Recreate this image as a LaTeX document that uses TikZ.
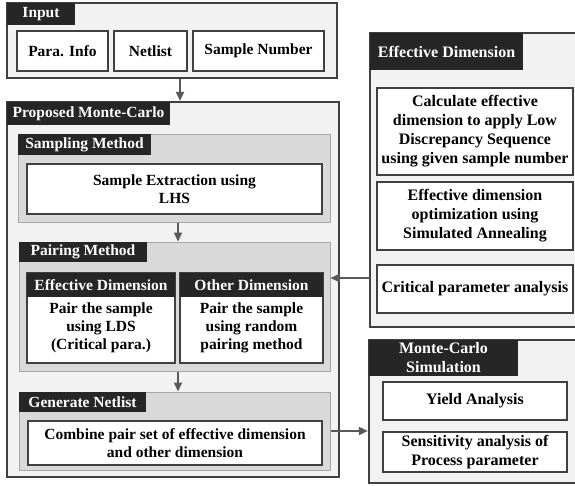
\documentclass[tikz,border=0pt]{standalone}
\usepackage{fontspec}
\setmainfont{Liberation Serif}
\usetikzlibrary{arrows.meta}
\definecolor{outerfill}{HTML}{F2F2F2}
\definecolor{borderc}{HTML}{404040}
\definecolor{midfill}{HTML}{D9D9D9}
\definecolor{midborder}{HTML}{A6A6A6}
\definecolor{hdrfill}{HTML}{262626}
\definecolor{arrc}{HTML}{595959}
\newcommand\txtL{\fontsize{15.5}{18}\selectfont\bfseries}
\newcommand\txtR{\fontsize{16}{19}\selectfont\bfseries}
\newcommand\bx[7]{\node[#2, inner sep=0pt, minimum width={(#5-#3)*1pt}, minimum height={(#6-#4)*1pt}] (#1) at ({(#3+#5)/2},{(#4+#6)/2}) {#7};}
\tikzset{
 outerbox/.style={draw=borderc, fill=outerfill, line width=2.2pt},
 midbox/.style={draw=midborder, fill=midfill, line width=1pt},
 whitebox/.style={draw=borderc, fill=white, line width=2.5pt, align=center, font=\txtL},
 whiteboxR/.style={whitebox, font=\txtR},
 hdr/.style={fill=hdrfill, text=white, align=center, font=\txtL},
 hdrR/.style={hdr, font=\txtR},
 plaintxt/.style={align=center, font=\txtL, inner sep=0pt},
 arr/.style={draw=arrc, line width=1.8pt, -{Triangle[length=9pt,width=8pt]}},
}
\begin{document}
\begin{tikzpicture}[x=1pt,y=-1pt]
\useasboundingbox (0,0) rectangle (575,485);
% Input
\bx{inp}{outerbox}{7}{3}{337}{78}{}
\bx{inph}{hdr}{7}{3}{75}{25}{Input}
\bx{para}{whitebox}{17}{31}{108}{71}{Para. Info}
\bx{net}{whitebox}{114}{31}{187}{71}{Netlist}
\bx{snum}{whitebox}{193}{31}{324}{71}{Sample Number}
% Proposed
\bx{prop}{outerbox}{7}{102}{339}{477}{}
\bx{proph}{hdr}{7}{102}{170}{125}{Proposed Monte-Carlo}
% Sampling
\bx{samp}{midbox}{18}{134}{330}{222}{}
\bx{samph}{hdr}{18}{134}{151}{155}{Sampling Method}
\bx{sampb}{whitebox}{27}{164}{322}{214}{Sample Extraction using\\LHS}
% Pairing
\bx{pair}{midbox}{19}{242}{330}{371}{}
\bx{pairh}{hdr}{19}{242}{147}{262}{Pairing Method}
\bx{pe}{whitebox}{27}{273}{175}{363}{}
\bx{peh}{hdr}{27}{273}{175}{297}{Effective Dimension}
\node[plaintxt] (pet) at (101,328) {Pair the sample\\using LDS\\(Critical para.)};
\bx{po}{whitebox}{180}{273}{323}{363}{}
\bx{poh}{hdr}{180}{273}{323}{297}{Other Dimension}
\node[plaintxt] (pot) at (251.5,328) {Pair the sample\\using random\\pairing method};
% Generate Netlist
\bx{gen}{midbox}{19}{392}{330}{470}{}
\bx{genh}{hdr}{19}{392}{146}{412}{Generate Netlist}
\bx{genb}{whitebox}{28}{421}{322}{465}{Combine pair set of effective dimension\\and other dimension}
% Effective Dimension (right)
\bx{edr}{outerbox}{370}{33}{590}{327}{}
\bx{edrh}{hdrR}{370}{33}{523}{70}{Effective Dimension}
\bx{ed1}{whiteboxR}{377}{88}{573}{175}{Calculate effective\\dimension to apply Low\\Discrepancy Sequence\\using given sample number}
\bx{ed2}{whiteboxR}{377}{182}{573}{250}{Effective dimension\\optimization using\\Simulated Annealing}
\bx{ed3}{whiteboxR}{377}{265}{573}{313}{Critical parameter analysis}
% Monte-Carlo Simulation
\bx{mc}{outerbox}{369}{340}{590}{483}{}
\bx{mch}{hdrR}{369}{340}{518}{376}{Monte-Carlo\\Simulation}
\bx{mc1}{whiteboxR}{383}{382}{567}{420}{Yield Analysis}
\bx{mc2}{whiteboxR}{383}{432}{567}{472}{Sensitivity analysis of\\Process parameter}
% arrows
\coordinate (edin) at (370,278);
\draw[arr] (inp.south -| 180,0) -- (prop.north -| 180,0);
\draw[arr] (samp.south -| 178,0) -- (pair.north -| 178,0);
\draw[arr] (pair.south -| 178,0) -- (gen.north -| 178,0);
\draw[arr] (edin) -- (pair.east |- edin);
\draw[arr] (gen.east) -- (mc.west |- gen.east);
\end{tikzpicture}
\end{document}
